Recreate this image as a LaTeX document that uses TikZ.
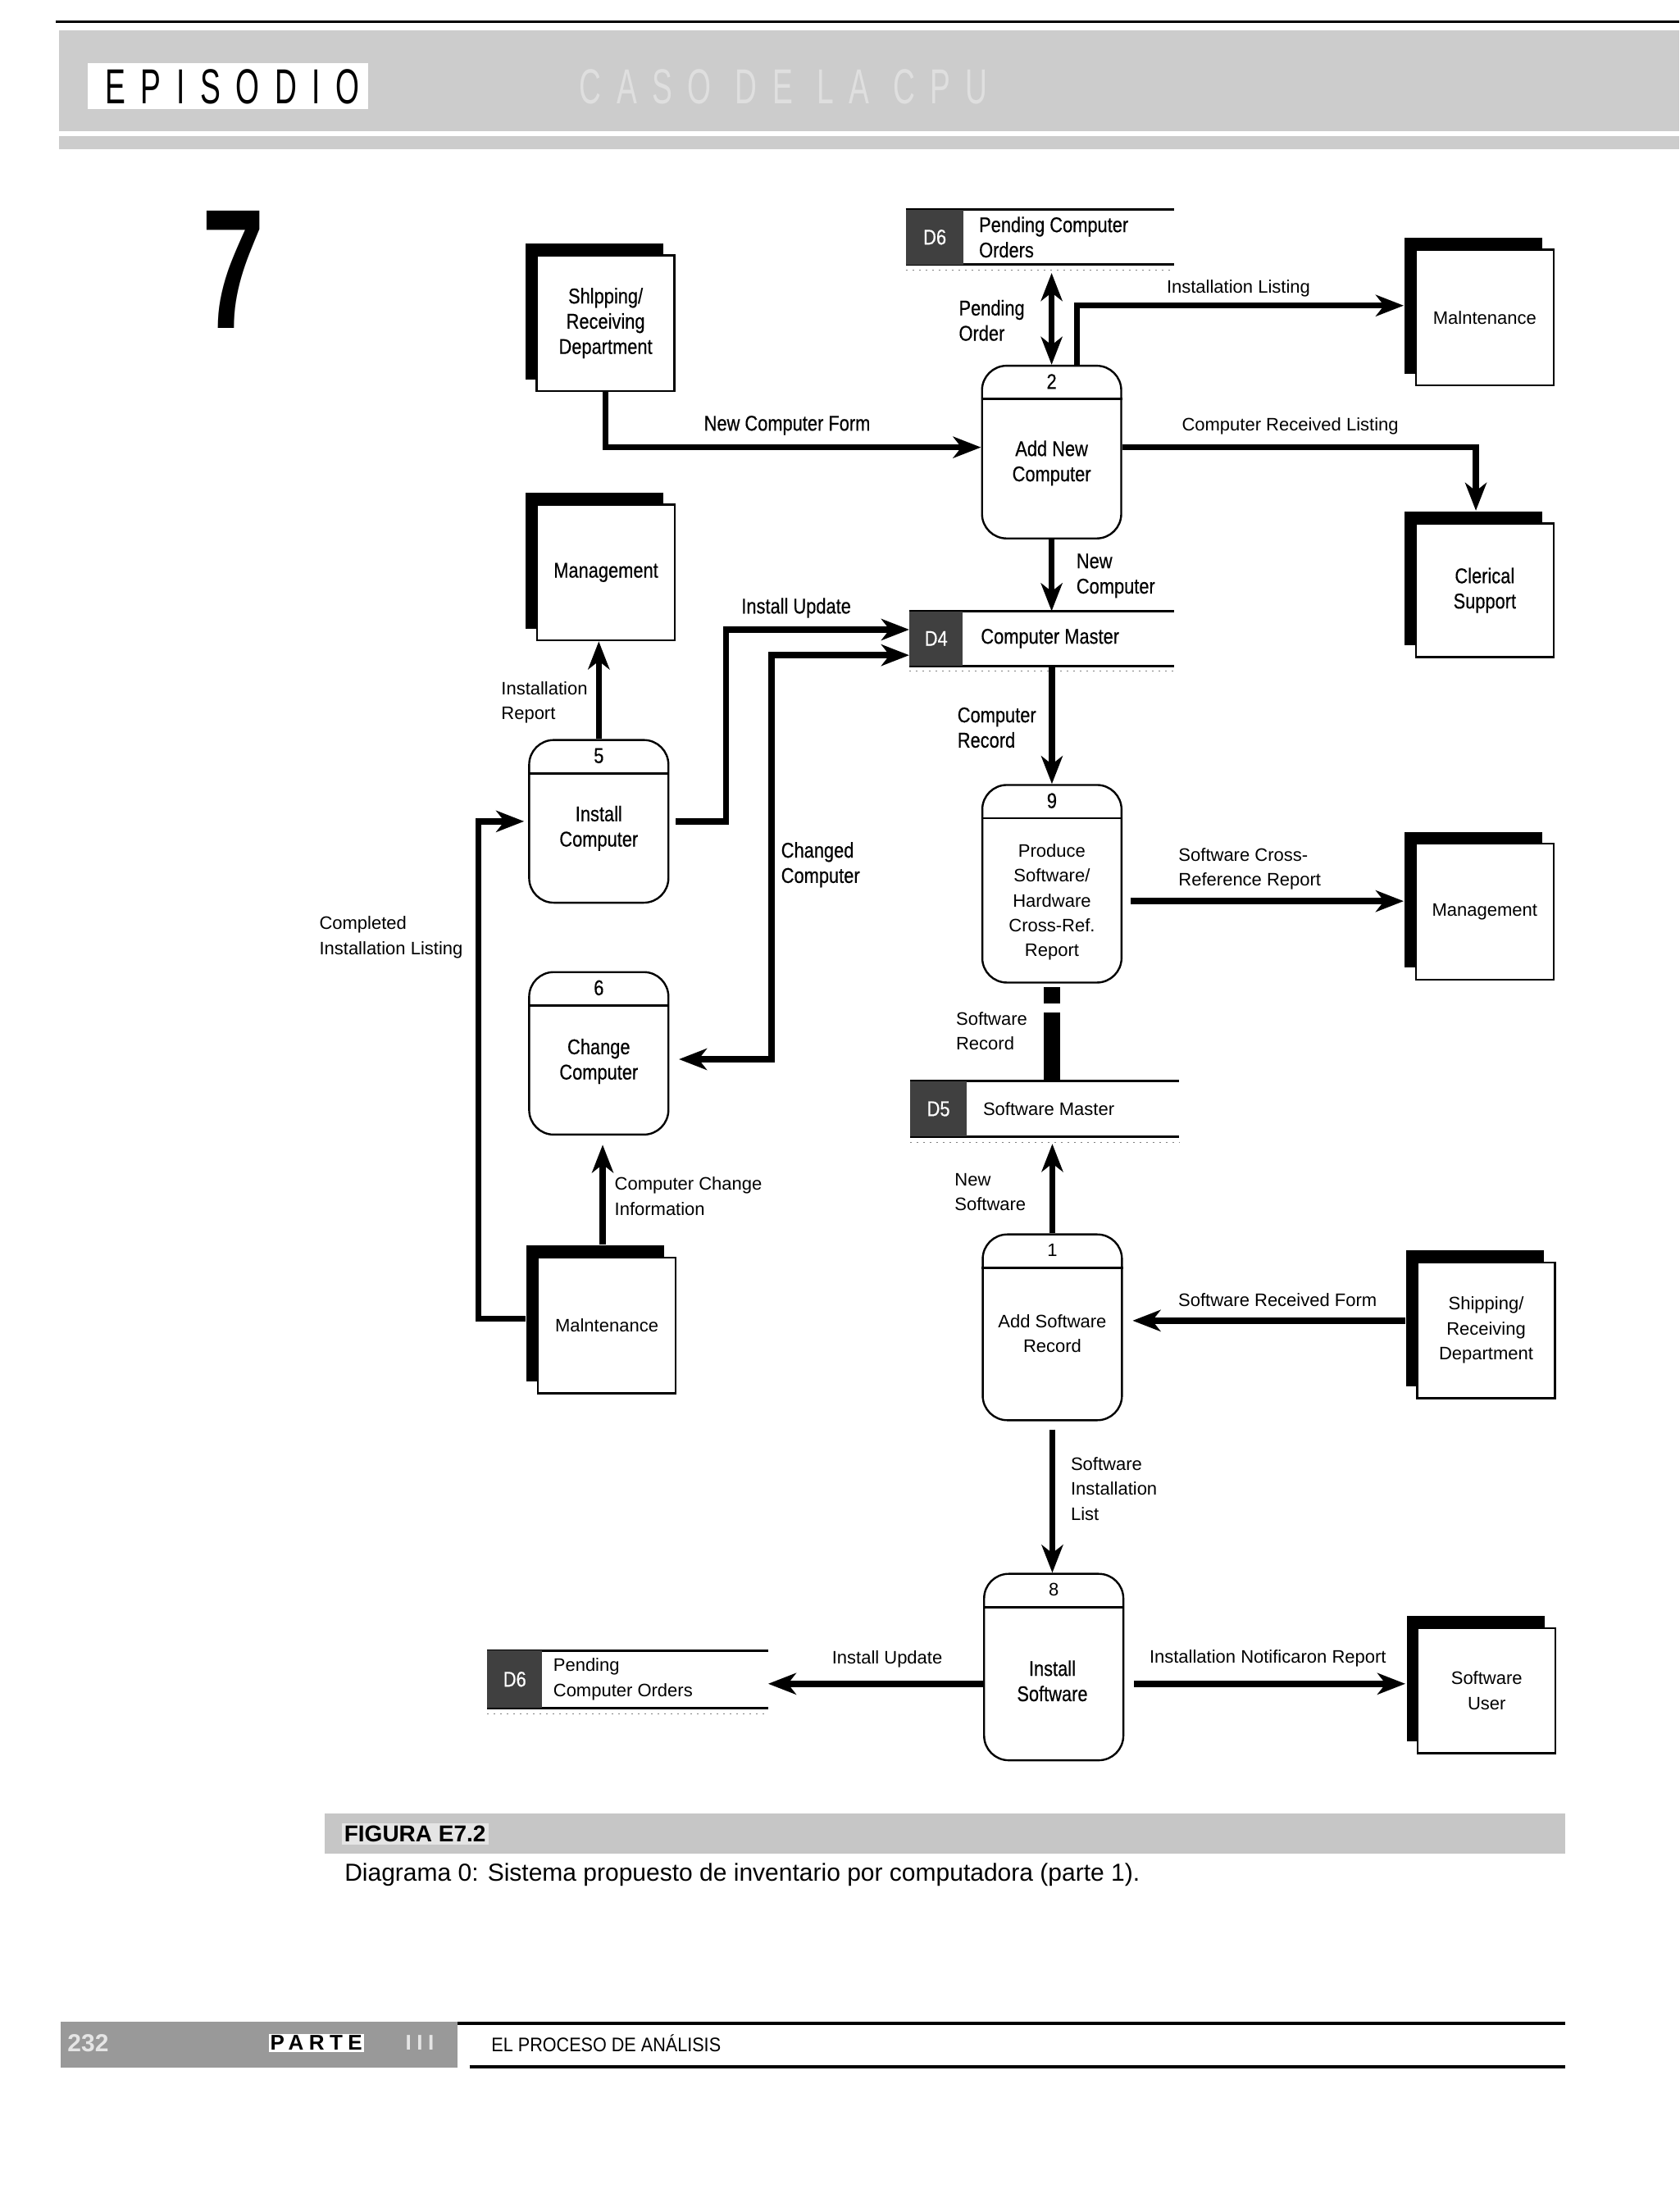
\documentclass[tikz,border=0pt]{standalone}
\usepackage{fontspec}
\setmainfont{Liberation Sans}
\newfontfamily\condf[FakeStretch=0.84,FakeBold=0.4]{Liberation Sans}
\newfontfamily\narrowf[FakeStretch=0.9]{Liberation Sans}
\newfontfamily\sevenf[FakeStretch=0.66]{Liberation Sans}
\newfontfamily\episf[FakeStretch=0.62,LetterSpace=31]{Liberation Sans}
\newfontfamily\partef[LetterSpace=25]{Liberation Sans}
\usetikzlibrary{arrows.meta,shadows}
\newcommand\lblf{\fontsize{11pt}{15.2pt}\selectfont}
\newcommand\cndf{\condf\fontsize{13pt}{15.4pt}\selectfont}
\begin{document}
\begin{tikzpicture}[x=0.8533pt,y=-0.8533pt,
  flow/.style={line width=3.7pt,-{Stealth[length=17pt,width=13pt,inset=5pt]}},
  flowtwo/.style={line width=3.7pt,{Stealth[length=17pt,width=13pt,inset=5pt]}-{Stealth[length=17pt,width=13pt,inset=5pt]}},
  entity/.style={draw=black,line width=1.2pt,fill=white,minimum width=84pt,minimum height=82.8pt,
    inner sep=1pt,align=center,general shadow={fill=black,shadow xshift=-6.8pt,shadow yshift=7.2pt}},
  proc/.style={draw=black,line width=1.2pt,rounded corners=15pt,minimum width=84.9pt,fill=white,inner sep=0pt},
  divl/.style={line width=1.4pt},
  storebox/.style={inner sep=0pt,draw=none},
  storeline/.style={line width=1.5pt},
  storeid/.style={fill=black!75,text=white,font=\cndf,inner sep=0pt,anchor=west},
  storedots/.style={line width=0.6pt,gray,dash pattern=on 1pt off 3pt},
  lbl/.style={font=\lblf,inner sep=0pt,align=center},
  lbll/.style={font=\lblf,inner sep=0pt,align=left,anchor=west},
  cnd/.style={font=\cndf,inner sep=0pt,align=center},
  cndl/.style={font=\cndf,inner sep=0pt,align=left,anchor=west}]
\useasboundingbox (0,0) rectangle (1200,1577.3);
\fill[white] (0,0) rectangle (1200,1577.3);

% ---------- header ----------
\draw[line width=1.7pt] (40,15.6) -- (1200,15.6);
\fill[gray!40] (42,21.5) rectangle (1200,93.7);
\fill[gray!40] (42,97) rectangle (1200,106.4);
\node[fill=white,minimum width=170.7pt,minimum height=28.2pt,inner sep=0pt] (episbox) at (163,61.5) {};
\node[font=\episf\fontsize{30pt}{30pt}\selectfont,inner sep=0pt] (epis) at (166,62) {EPISODIO};
\node[font=\episf\fontsize{30pt}{30pt}\selectfont,text=white!75!gray,inner sep=0pt] (caso) at (560,62) {CASO DE LA CPU};
\node[font=\sevenf\bfseries\fontsize{104pt}{104pt}\selectfont,inner sep=0pt] (seven) at (167,193) {7};

% ---------- external entities ----------
\node[entity,font=\cndf] (sr1) at (432.75,230.95) {Shlpping/\\Receiving\\Department};
\node[entity,font=\cndf] (m1) at (433,409.15) {Management};
\node[entity,font=\lblf] (mt1) at (1061,226.95) {Malntenance};
\node[entity,font=\cndf,minimum height=81.4pt] (cs) at (1061,421.9) {Clerical\\Support};
\node[entity,font=\lblf] (m2) at (1061,651.5) {Management};
\node[entity,font=\lblf] (sr2) at (1062,950.75) {Shipping/\\Receiving\\Department};
\node[entity,font=\lblf] (mt2) at (433.6,947.15) {Malntenance};
\node[entity,font=\lblf,minimum height=76.4pt] (su) at (1062.4,1208.25) {Software\\User};

% ---------- processes ----------
\node[proc,minimum height=105.3pt] (p2) at (751.5,323.1) {};
\node[proc,minimum height=120.5pt] (p9) at (751.7,631.6) {};
\node[proc,minimum height=113.3pt] (p1) at (752,948.6) {};
\node[proc,minimum height=113.7pt] (p8) at (753,1191.4) {};
\node[proc,minimum height=99.2pt] (p5) at (427.9,587) {};
\node[proc,minimum height=99.1pt] (p6) at (427.9,752.8) {};
\foreach \p in {p2,p9,p1,p8,p5,p6}
  \draw[divl] ([yshift=-20.9pt]\p.north west) -- ([yshift=-20.9pt]\p.north east);
\node[cnd] (p2n) at ([yshift=-10.2pt]p2.north) {2};
\node[cnd] (p9n) at ([yshift=-10.2pt]p9.north) {9};
\node[lbl] (p1n) at ([yshift=-10.2pt]p1.north) {1};
\node[lbl] (p8n) at ([yshift=-10.2pt]p8.north) {8};
\node[cnd] (p5n) at ([yshift=-10.2pt]p5.north) {5};
\node[cnd] (p6n) at ([yshift=-10.2pt]p6.north) {6};
\node[cnd] (p2t) at (751.5,331) {Add New\\Computer};
\node[lbl] (p9t) at (751.7,644.7) {Produce\\Software/\\Hardware\\Cross-Ref.\\Report};
\node[cnd] (p5t) at (427.9,592) {Install\\Computer};
\node[cnd] (p6t) at (427.9,758.5) {Change\\Computer};
\node[lbl] (p1t) at (752,953) {Add Software\\Record};
\node[cnd] (p8t) at (752,1201.3) {Install\\Software};

% ---------- data stores ----------
\node[storebox,minimum width=163.4pt,minimum height=33.3pt] (d6a) at (743.25,169.5) {};
\node[storebox,minimum width=161.3pt,minimum height=32.9pt] (d4) at (744.5,456.3) {};
\node[storebox,minimum width=163.7pt,minimum height=33.6pt] (d5) at (746.4,792.5) {};
\node[storebox,minimum width=171pt,minimum height=34.8pt] (d6b) at (448.5,1200.1) {};
\foreach \s in {d6a,d4,d5,d6b}{
  \draw[storeline] (\s.north west) -- (\s.north east) (\s.south west) -- (\s.south east);
  \draw[storedots] ([yshift=-3.4pt]\s.south west) -- ([yshift=-3.4pt]\s.south east);
}
\node[storeid,minimum width=35pt,minimum height=33.3pt] (d6aid) at (d6a.west) {D6};
\node[storeid,minimum width=32.4pt,minimum height=32.9pt] (d4id) at (d4.west) {D4};
\node[storeid,minimum width=34.4pt,minimum height=33.6pt] (d5id) at (d5.west) {D5};
\node[storeid,minimum width=33.3pt,minimum height=34.8pt] (d6bid) at (d6b.west) {D6};
\node[cndl] (d6at) at ([xshift=44.5pt]d6a.west) {Pending Computer\\Orders};
\node[cndl] (d4t) at ([xshift=43.5pt]d4.west) {Computer Master};
\node[lbll] (d5t) at ([xshift=44.4pt]d5.west) {Software Master};
\node[lbll] (d6bt) at ([xshift=40.2pt]d6b.west) {Pending\\Computer Orders};

% ---------- data flows ----------
\draw[flow] (sr1.south) |- ([yshift=2.9pt]p2.west);
\draw[flowtwo,shorten <=5pt] (d6a.south -| p2.north) -- (p2.north);
\draw[flow] ([xshift=15.4pt]p2.north) |- ([xshift=-6.8pt,yshift=7.3pt]mt1.west);
\draw[flow] ([yshift=2.9pt]p2.east) -| ([xshift=-5.4pt,yshift=7.25pt]cs.north);
\draw[flow] (p2.south) -- (p2.south |- d4.north);
\draw[flow,shorten <=4pt] (p5.east) -- ++(40.5,0) |- ([yshift=5.4pt]d4.west);
\draw[flowtwo] ([yshift=-10.2pt]d4.west) -- ++(-98.5,0) |- ([xshift=5.8pt,yshift=-3.6pt]p6.east);
\draw[flow] (p5.north) -- (p5.north |- m1.south);
\draw[flow,shorten >=2.5pt] ([xshift=-6.8pt,yshift=3.9pt]mt2.west) -- ++(-34,0) |- (p5.west);
\coordinate (cci) at ([xshift=-2.5pt,yshift=7.25pt]mt2.north);
\draw[flow,shorten >=5.6pt] (cci) -- (cci |- p6.south);
\draw[flow] (d4.south -| p9.north) -- (p9.north);
\coordinate (scr) at ([xshift=4.8pt,yshift=-10.6pt]p9.east);
\draw[flow,shorten >=6.8pt] (scr) -- (scr -| m2.west);
\draw[line width=10pt,shorten <=2.4pt,dash pattern=on 9.7pt off 5.6pt on 60pt off 10pt] (p9.south) -- (p9.south |- d5.north);
\draw[flow,shorten >=4.3pt] (p1.north) -- (p1.north |- d5.south);
\coordinate (srf) at ([xshift=-6.8pt,yshift=5.9pt]sr2.west);
\draw[flow,shorten >=5.9pt] (srf) -- (srf -| p1.east);
\draw[flow,shorten <=5pt] (p1.south) -- (p1.south |- p8.north);
\coordinate (iub) at ([yshift=-10.2pt]p8.west);
\draw[flow] (iub) -- (iub -| d6b.east);
\coordinate (inr) at ([xshift=5.9pt,yshift=-10.2pt]p8.east);
\draw[flow,shorten >=7pt] (inr) -- (inr -| su.west);

% ---------- flow labels ----------
\node[cndl] (lpo) at (685,229) {Pending\\Order};
\node[lbl] (lil) at (885,206) {Installation Listing};
\node[cnd] (lncf) at (562.5,304) {New Computer Form};
\node[lbl] (lcrl) at (922,304.5) {Computer Received Listing};
\node[cndl] (lnc) at (769,411.5) {New\\Computer};
\node[cnd] (liu) at (569,434.5) {Install Update};
\node[lbll] (lir) at (358,502) {Installation\\Report};
\node[cndl] (lcr) at (684,520) {Computer\\Record};
\node[cndl] (lcc) at (558,618) {Changed\\Computer};
\node[lbll] (lscr) at (842,621) {Software Cross-\\Reference Report};
\node[lbll] (lcil) at (228,670) {Completed\\Installation Listing};
\node[lbll] (lsr) at (683,737) {Software\\Record};
\node[lbll] (lcci) at (439,855) {Computer Change\\Information};
\node[lbll] (lns) at (682,852) {New\\Software};
\node[lbl] (lsrf) at (913,929) {Software Received Form};
\node[lbll] (lsil) at (765,1064) {Software\\Installation\\List};
\node[lbl] (liub) at (634,1186) {Install Update};
\node[lbl] (linr) at (906,1185) {Installation Notificaron Report};

% ---------- caption ----------
\fill[gray!45] (232,1296) rectangle (1118.5,1325);
\node[fill=white!80!gray,inner sep=1.5pt,font=\bfseries\fontsize{14pt}{14pt}\selectfont,anchor=west] (fig) at (244,1310.5) {FIGURA E7.2};
\node[anchor=west,inner sep=0pt,font=\fontsize{15pt}{16pt}\selectfont] (cap) at (246,1340) {Diagrama 0: Sistema propuesto de inventario por computadora (parte 1).};

% ---------- footer ----------
\fill[gray!80] (43.5,1445) rectangle (327,1477.5);
\draw[line width=1.8pt] (327,1446) -- (1118.5,1446);
\draw[line width=2pt] (335.5,1477) -- (1118.5,1477);
\node[fill=white,inner sep=1pt,font=\partef\bfseries\fontsize{13pt}{13pt}\selectfont] (parte) at (226,1460) {PARTE};
\node[inner sep=0pt,text=white!80!gray,font=\partef\bfseries\fontsize{13pt}{13pt}\selectfont] (iii) at (300,1460) {III};
\node[inner sep=0pt,text=white!80!gray,font=\bfseries\fontsize{15pt}{15pt}\selectfont] (pg) at (63,1460) {232};
\node[anchor=west,inner sep=0pt,font=\narrowf\fontsize{12pt}{12pt}\selectfont] (elp) at (351,1460) {EL PROCESO DE ANÁLISIS};
\end{tikzpicture}
\end{document}
